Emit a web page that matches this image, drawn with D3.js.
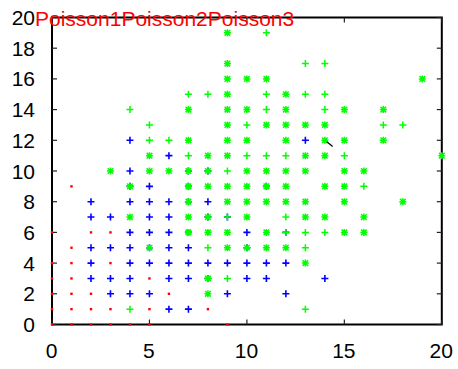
<!DOCTYPE html>
<html>
<head>
<meta charset="utf-8">
<script src="https://cdn.jsdelivr.net/npm/d3@7"></script>
<style>
  html, body { margin: 0; padding: 0; background: #fff; }
  text { font-family: "Liberation Sans", Arial, sans-serif; }
</style>
</head>
<body>
<div id="chart"></div>
<script>
// series names, as shown in the key
const seriesNames = ['Poisson1', 'Poisson2', 'Poisson3'];

// axis ticks
const xTicks = [0, 5, 10, 15, 20];
const yTicks = [0, 2, 4, 6, 8, 10, 12, 14, 16, 18, 20];

// Poisson1: [x, y]
const poisson1 = [
  [0, 0], [1, 0], [2, 0], [3, 0], [4, 0], [5, 0], [9, 0],
  [0, 1], [1, 1], [2, 1], [3, 1], [5, 1], [8, 1],
  [0, 2], [1, 2], [2, 2], [6, 2],
  [0, 3], [1, 3], [5, 3],
  [0, 4], [1, 4], [3, 4],
  [1, 5],
  [0, 6], [2, 6], [3, 6],
  [1, 9]
];

// Poisson2: [x, y]
const poisson2 = [
  [6, 1], [7, 1],
  [3, 2], [4, 2], [5, 2], [9, 2], [12, 2],
  [2, 3], [3, 3], [4, 3], [6, 3], [7, 3], [8, 3], [10, 3], [11, 3], [14, 3],
  [2, 4], [4, 4], [5, 4], [6, 4], [7, 4], [8, 4], [9, 4], [10, 4], [11, 4], [12, 4],
  [2, 5], [3, 5], [4, 5], [5, 5], [6, 5], [7, 5], [10, 5],
  [4, 6], [5, 6], [6, 6], [7, 6], [10, 6], [12, 6],
  [2, 7], [3, 7], [5, 7], [6, 7], [8, 7], [9, 7],
  [2, 8], [4, 8], [5, 8], [6, 8], [7, 8], [8, 8],
  [4, 9], [5, 9], [7, 9], [11, 9],
  [4, 10], [7, 10], [8, 10],
  [6, 11],
  [4, 12], [13, 12]
];

// Poisson3: [x, y, n]  (n > 1 where several samples fall on the same spot)
const poisson3 = [
  [4, 1, 1], [13, 1, 1],
  [8, 2, 2],
  [8, 3, 2], [9, 3, 1],
  [13, 4, 2],
  [5, 5, 2], [8, 5, 1], [9, 5, 2], [10, 5, 2], [11, 5, 2], [12, 5, 2], [13, 5, 1],
  [7, 6, 2], [8, 6, 2], [9, 6, 2], [11, 6, 2], [12, 6, 1], [13, 6, 1], [14, 6, 1], [15, 6, 2], [16, 6, 2],
  [4, 7, 2], [7, 7, 2], [8, 7, 2], [9, 7, 1], [10, 7, 2], [12, 7, 1], [13, 7, 2], [14, 7, 2], [16, 7, 2],
  [7, 8, 2], [9, 8, 2], [10, 8, 2], [11, 8, 2], [12, 8, 2], [13, 8, 2], [15, 8, 2], [18, 8, 2],
  [4, 9, 2], [7, 9, 2], [8, 9, 2], [9, 9, 2], [10, 9, 2], [11, 9, 2], [12, 9, 2], [14, 9, 2], [15, 9, 2], [16, 9, 1],
  [3, 10, 2], [5, 10, 2], [6, 10, 2], [7, 10, 2], [8, 10, 2], [9, 10, 1], [10, 10, 2], [11, 10, 2], [12, 10, 2], [13, 10, 2], [15, 10, 2], [16, 10, 2],
  [5, 11, 2], [7, 11, 1], [8, 11, 2], [9, 11, 2], [10, 11, 1], [11, 11, 1], [12, 11, 1], [13, 11, 2], [14, 11, 2], [15, 11, 1], [20, 11, 2],
  [5, 12, 1], [6, 12, 1], [7, 12, 2], [9, 12, 2], [10, 12, 2], [12, 12, 2], [14, 12, 2], [15, 12, 2], [17, 12, 2],
  [5, 13, 1], [9, 13, 2], [10, 13, 1], [11, 13, 2], [12, 13, 2], [13, 13, 2], [14, 13, 2], [17, 13, 1], [18, 13, 1],
  [4, 14, 1], [7, 14, 2], [9, 14, 2], [10, 14, 2], [11, 14, 1], [12, 14, 2], [14, 14, 1], [15, 14, 2], [17, 14, 2],
  [7, 15, 1], [8, 15, 1], [9, 15, 2], [11, 15, 1], [12, 15, 2], [13, 15, 1], [14, 15, 1],
  [9, 16, 2], [10, 16, 2], [11, 16, 2], [19, 16, 2],
  [9, 17, 2], [13, 17, 1], [14, 17, 1],
  [9, 19, 2], [11, 19, 1]
];

// small stray black stroke near (14, 12)
const strayMark = [[14.1, 11.9], [14.4, 11.6]];

const width = 458, height = 369;
const margin = {top: 17.5, right: 16.2, bottom: 44.5, left: 52};
const w = width - margin.left - margin.right,
  h = height - margin.top - margin.bottom;

const x = d3.scaleLinear().domain([0, 20]).range([0, w]);
const y = d3.scaleLinear().domain([0, 20]).range([h, 0]);

const svg = d3.select('#chart')
  .append('svg')
  .attr('width', width)
  .attr('height', height)
  .style('display', 'block');

svg.append('rect').attr('width', width).attr('height', height).attr('fill', '#fff');

const g = svg.append('g')
  .attr('transform', `translate(${margin.left},${margin.top})`);

// frame first, points are drawn over it
g.append('rect')
  .attr('x', 0).attr('y', 0).attr('width', w).attr('height', h)
  .attr('fill', 'none').attr('stroke', '#000').attr('stroke-width', 2);

// ticks, gnuplot style: inward on all four sides
const tl = 5;
g.selectAll('line.yl').data(yTicks).enter().append('line')
  .attr('x1', 0).attr('x2', tl)
  .attr('y1', d => y(d)).attr('y2', d => y(d))
  .attr('stroke', '#222').attr('stroke-width', 1.2);
g.selectAll('line.yr').data(yTicks).enter().append('line')
  .attr('x1', w).attr('x2', w - tl)
  .attr('y1', d => y(d)).attr('y2', d => y(d))
  .attr('stroke', '#222').attr('stroke-width', 1.2);
g.selectAll('line.xb').data(xTicks).enter().append('line')
  .attr('x1', d => x(d)).attr('x2', d => x(d))
  .attr('y1', h).attr('y2', h - tl)
  .attr('stroke', '#222').attr('stroke-width', 1.2);
g.selectAll('line.xt').data(xTicks).enter().append('line')
  .attr('x1', d => x(d)).attr('x2', d => x(d))
  .attr('y1', 0).attr('y2', tl)
  .attr('stroke', '#222').attr('stroke-width', 1.2);

// tick labels
g.selectAll('text.ylab').data(yTicks).enter().append('text')
  .attr('x', -17)
  .attr('y', d => y(d) + 7.5)
  .attr('text-anchor', 'end')
  .attr('font-size', 21)
  .text(d => d);
g.selectAll('text.xlab').data(xTicks).enter().append('text')
  .attr('x', d => x(d) - 0.5)
  .attr('y', h + 33.5)
  .attr('text-anchor', 'middle')
  .attr('font-size', 21)
  .text(d => d);

// markers
const arm = 3.5;
const plusPath = `M${-arm},0H${arm}M0,${-arm}V${arm}`;
const d45 = 2.8;
const starPath = plusPath + `M${-d45},${-d45}L${d45},${d45}M${-d45},${d45}L${d45},${-d45}`;

// Poisson1 dots
g.append('g').selectAll('rect').data(poisson1).enter().append('rect')
  .attr('x', d => x(d[0]) - 1.2)
  .attr('y', d => y(d[1]) - 1.2)
  .attr('width', 2.4).attr('height', 2.4)
  .attr('fill', '#ff0000');

// Poisson2 plus
g.append('g').selectAll('path').data(poisson2).enter().append('path')
  .attr('transform', d => `translate(${x(d[0])},${y(d[1])})`)
  .attr('d', plusPath)
  .attr('stroke', '#0000ff').attr('stroke-width', 1.6).attr('fill', 'none');

// Poisson3 plus / star
g.append('g').selectAll('path').data(poisson3).enter().append('path')
  .attr('transform', d => `translate(${x(d[0])},${y(d[1])})`)
  .attr('d', d => d[2] > 1 ? starPath : plusPath)
  .attr('stroke', '#00ff00').attr('stroke-width', d => d[2] > 1 ? 1.5 : 1.5).attr('fill', 'none');

// stray stroke
g.append('path')
  .attr('d', d3.line().x(d => x(d[0])).y(d => y(d[1]))(strayMark))
  .attr('stroke', '#000').attr('stroke-width', 1.2).attr('fill', 'none');

// key: names run together in red over the top-left
const key = g.append('text')
  .attr('x', -17)
  .attr('y', 8.5)
  .attr('font-size', 21)
  .attr('fill', '#ff0000');
key.selectAll('tspan').data(seriesNames).enter().append('tspan')
  .text(d => d);
</script>
</body>
</html>
